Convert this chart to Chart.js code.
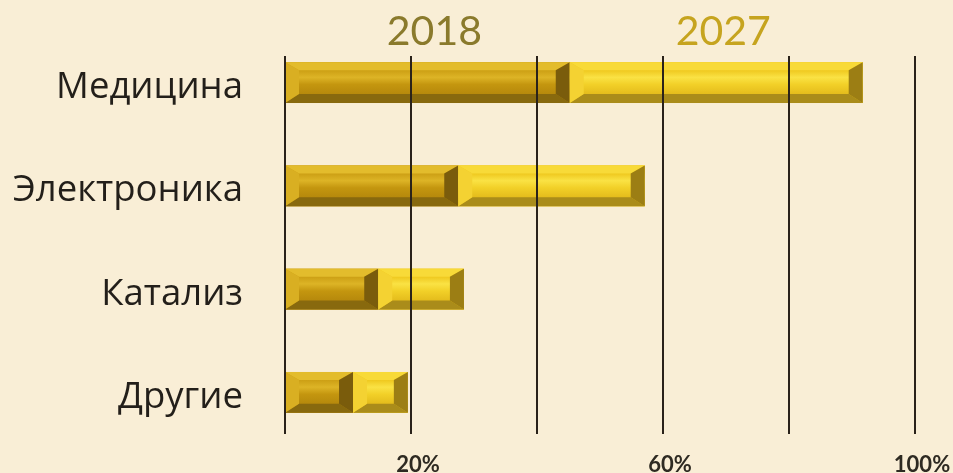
<!DOCTYPE html>
<html>
<head>
    <meta charset="UTF-8">
    <title>Области применения</title>
    <script src="https://cdn.jsdelivr.net/npm/chart.js"></script>
    <style>
        html, body {
            margin: 0;
            padding: 0;
            background: #f9eed6;
        }
        .chart-box {
            width: 953px;
            height: 473px;
            position: relative;
        }
    </style>
</head>
<body>
    <div class="chart-box">
        <canvas id="usageChart"></canvas>
    </div>

<script>
// категории и значения (доля, %)
const categories = ['Медицина', 'Электроника', 'Катализ', 'Другие'];
const seriesNames = ['2018', '2027'];
const values2018 = [45.2, 27.5, 14.8, 10.8];
const growth2027 = [46.5, 29.6, 13.6, 8.7];   // прирост к 2027, складывается с 2018
const tickValues = [0, 20, 40, 60, 80, 100];
const shownTicks = [20, 60, 100];

// цвета граней для объёмных полос
const palette = [
    { face: ['#cc9f14', '#ddb426', '#c4960f', '#b6890c'], top: '#e3bc2c', bottom: '#88690e', left: '#d9af22', right: '#7a5c0c' },
    { face: ['#efc81e', '#fae244', '#f2d028', '#e4bc1c'], top: '#f8da38', bottom: '#aa8c1a', left: '#f4d232', right: '#9c7e14' }
];

// рисуем фаски поверх каждой полосы
const bevelPlugin = {
    id: 'bevel',
    afterDatasetsDraw(chart) {
        const ctx = chart.ctx;
        chart.data.datasets.forEach((ds, di) => {
            const meta = chart.getDatasetMeta(di);
            const c = palette[di];
            meta.data.forEach(el => {
                const p = el.getProps(['x', 'y', 'base', 'height'], true);
                const l = Math.min(p.x, p.base), r = Math.max(p.x, p.base);
                const t = p.y - p.height / 2, b = p.y + p.height / 2;
                const bw = Math.min(14, (r - l) / 2), th = 8, bh = 9;

                const g = ctx.createLinearGradient(0, t + th, 0, b - bh);
                g.addColorStop(0, c.face[0]);
                g.addColorStop(0.3, c.face[1]);
                g.addColorStop(0.6, c.face[2]);
                g.addColorStop(1, c.face[3]);
                ctx.save();
                ctx.fillStyle = g;
                ctx.fillRect(l, t, r - l, b - t);

                const poly = (pts, col) => {
                    ctx.beginPath();
                    ctx.moveTo(pts[0][0], pts[0][1]);
                    for (let i = 1; i < pts.length; i++) ctx.lineTo(pts[i][0], pts[i][1]);
                    ctx.closePath();
                    ctx.fillStyle = col;
                    ctx.fill();
                };
                poly([[l, t], [r, t], [r - bw, t + th], [l + bw, t + th]], c.top);
                poly([[l, b], [r, b], [r - bw, b - bh], [l + bw, b - bh]], c.bottom);
                poly([[l, t], [l + bw, t + th], [l + bw, b - bh], [l, b]], c.left);
                poly([[r, t], [r - bw, t + th], [r - bw, b - bh], [r, b]], c.right);
                ctx.restore();
            });
        });

        // вертикальные линии сетки поверх полос
        const xs = chart.scales.x;
        const area = chart.chartArea;
        ctx.save();
        ctx.strokeStyle = '#2a221a';
        ctx.lineWidth = 2;
        tickValues.forEach(v => {
            const x = Math.round(xs.getPixelForValue(v));
            ctx.beginPath();
            ctx.moveTo(x, area.top + 25);
            ctx.lineTo(x, area.bottom - 10);
            ctx.stroke();
        });
        ctx.restore();
    },
    // подписи годов над первой полосой
    afterDraw(chart) {
        const ctx = chart.ctx;
        const colors = ['#8a7a2c', '#c6a41f'];
        ctx.save();
        ctx.font = '41px Lato, "Open Sans", sans-serif';
        ctx.textAlign = 'center';
        ctx.textBaseline = 'alphabetic';
        seriesNames.forEach((name, di) => {
            const el = chart.getDatasetMeta(di).data[0];
            const p = el.getProps(['x', 'base'], true);
            ctx.fillStyle = colors[di];
            ctx.fillText(name, (p.x + p.base) / 2 + 7, 45);
        });
        ctx.restore();
    }
};

new Chart(document.getElementById('usageChart'), {
    type: 'bar',
    data: {
        labels: categories,
        datasets: [
            { label: seriesNames[0], data: values2018, backgroundColor: '#cc9f14', borderWidth: 0 },
            { label: seriesNames[1], data: growth2027, backgroundColor: '#efc81e', borderWidth: 0 }
        ]
    },
    options: {
        indexAxis: 'y',
        responsive: true,
        maintainAspectRatio: false,
        animation: false,
        categoryPercentage: 1,
        barPercentage: 0.395,
        layout: { padding: { top: 31, right: 38, left: 0, bottom: 0 } },
        plugins: {
            legend: { display: false },
            tooltip: { enabled: false }
        },
        scales: {
            x: {
                stacked: true,
                min: 0,
                max: 100,
                grid: { display: false, drawTicks: false },
                border: { display: false },
                afterBuildTicks(scale) {
                    scale.ticks = tickValues.map(v => ({ value: v }));
                },
                afterFit(scale) {
                    scale.height = 29;
                    scale.paddingLeft = 0;
                    scale.paddingRight = 0;
                },
                ticks: {
                    padding: 8,
                    labelOffset: 7,
                    maxRotation: 0,
                    autoSkip: false,
                    color: '#2e2a22',
                    font: { family: 'Lato, "Open Sans", sans-serif', size: 22, weight: 'bold' },
                    callback: v => shownTicks.includes(v) ? v + '%' : ''
                }
            },
            y: {
                stacked: true,
                grid: { display: false, drawTicks: false },
                border: { display: false },
                afterFit(scale) {
                    scale.width = 285;
                    scale.paddingTop = 0;
                    scale.paddingBottom = 0;
                },
                ticks: {
                    padding: 42,
                    labelOffset: 5,
                    color: '#231f1a',
                    font: { family: '"Open Sans", sans-serif', size: 36.5 }
                }
            }
        }
    },
    plugins: [bevelPlugin]
});
</script>
</body>
</html>
